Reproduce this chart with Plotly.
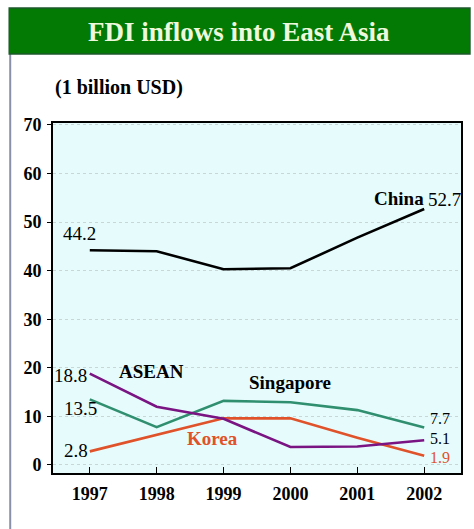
import plotly.graph_objects as go

# FDI inflows into East Asia, billions of USD
years = [1997, 1998, 1999, 2000, 2001, 2002]
china = [44.2, 44.0, 40.3, 40.5, 46.8, 52.7]
asean = [18.8, 12.0, 9.5, 3.7, 3.8, 5.1]
singapore = [13.5, 7.8, 13.2, 12.9, 11.3, 7.7]
korea = [2.8, 6.2, 9.6, 9.6, 5.6, 1.9]

y_ticks = [0, 10, 20, 30, 40, 50, 60, 70]
x_tick_labels = ["1997", "1998", "1999", "2000", "2001", "2002"]

W, H = 474, 529
ML, MR, MT, MB = 53, 11, 123, 56
PW, PH = W - ML - MR, H - MT - MB

SERIF = "Liberation Serif"
C_CHINA = "#000000"
C_ASEAN = "#7A1483"
C_SING = "#2F8F6F"
C_KOREA = "#E0522A"


def px(x):
    return (x - ML) / PW


def py(y):
    return (H - MB - y) / PH


fig = go.Figure()
for name, vals, col in [
    ("Korea", korea, C_KOREA),
    ("Singapore", singapore, C_SING),
    ("ASEAN", asean, C_ASEAN),
    ("China", china, C_CHINA),
]:
    fig.add_trace(go.Scatter(x=years, y=vals, mode="lines", name=name,
                             line=dict(color=col, width=2.6), showlegend=False))

annotations = []

# first / last value labels
def val_label(x, y, text, dx, dy, color="#000000", size=19):
    annotations.append(dict(x=x, y=y, xref="x", yref="y", text=text, showarrow=False,
                            xanchor="center", yanchor="middle",
                            xshift=dx, yshift=dy,
                            font=dict(family=SERIF, size=size, color=color)))

val_label(years[0], china[0], f"{china[0]}", -10, 17)
val_label(years[-1], china[-1], f"{china[-1]}", 20, 9)
val_label(years[0], asean[0], f"{asean[0]}", -19, -2)
val_label(years[0], singapore[0], f"{singapore[0]}", -9, -9)
val_label(years[0], korea[0], f"{korea[0]}", -14, 1)
# right-hand end values sit in a tight stack
val_label(years[-1], singapore[-1], f"{singapore[-1]}", 16, 9, size=16)
val_label(years[-1], asean[-1], f"{asean[-1]}", 16, 2, size=16)
val_label(years[-1], korea[-1], f"{korea[-1]}", 16, -2, C_KOREA, size=16)

# series names
def name_label(x, y, text, color="#000000"):
    annotations.append(dict(x=x, y=y, xref="x", yref="y", text=f"<b>{text}</b>",
                            showarrow=False, xanchor="center", yanchor="middle",
                            font=dict(family=SERIF, size=19, color=color)))

name_label(2001.62, 54.8, "China")
name_label(1997.92, 19.3, "ASEAN")
name_label(2000.0, 16.9, "Singapore")
name_label(1998.84, 5.5, "Korea", C_KOREA)

# header and unit
annotations.append(dict(x=px(240), y=py(32), xref="paper", yref="paper",
                        xanchor="center", yanchor="middle",
                        text="<b>FDI inflows into East Asia</b>", showarrow=False,
                        font=dict(family=SERIF, size=27, color="#EEF8DC")))
annotations.append(dict(x=px(53), y=py(87), xref="paper", yref="paper",
                        xanchor="left", yanchor="middle",
                        text="<b>(1 billion USD)</b>", showarrow=False,
                        font=dict(family=SERIF, size=20, color="#000000")))

shapes = [
    # panel frame
    dict(type="line", xref="paper", yref="paper", x0=px(10), x1=px(10),
         y0=py(54), y1=py(529), line=dict(color="#8A90A8", width=2), layer="below"),
    # header bar
    dict(type="rect", xref="paper", yref="paper", x0=px(9), x1=px(472),
         y0=py(54), y1=py(8), fillcolor="#037A03",
         line=dict(color="#1E5A2E", width=1.5), layer="below"),
]

fig.update_layout(
    width=W, height=H,
    margin=dict(l=ML, r=MR, t=MT, b=MB),
    paper_bgcolor="#FFFFFF",
    plot_bgcolor="#E6FCFC",
    annotations=annotations,
    shapes=shapes,
    xaxis=dict(range=[1996.45, 2002.55], tickvals=years, ticktext=x_tick_labels,
               ticks="inside", ticklen=6, tickwidth=1, tickcolor="#000000",
               showgrid=False, zeroline=False,
               showline=True, linecolor="#000000", linewidth=1.5, mirror=True,
               ticklabelstandoff=4,
               tickfont=dict(family=SERIF, size=18, color="#000000", weight="bold")),
    yaxis=dict(range=[-1.65, 70.4], tickvals=y_ticks,
               ticks="outside", ticklen=4, tickwidth=1, tickcolor="#000000",
               showgrid=True, gridcolor="#C9D6D6", griddash="dot", gridwidth=1,
               zeroline=False,
               showline=True, linecolor="#000000", linewidth=2, mirror=True,
               ticklabelstandoff=2,
               tickfont=dict(family=SERIF, size=18, color="#000000", weight="bold")),
)

fig.write_html("out.html")
